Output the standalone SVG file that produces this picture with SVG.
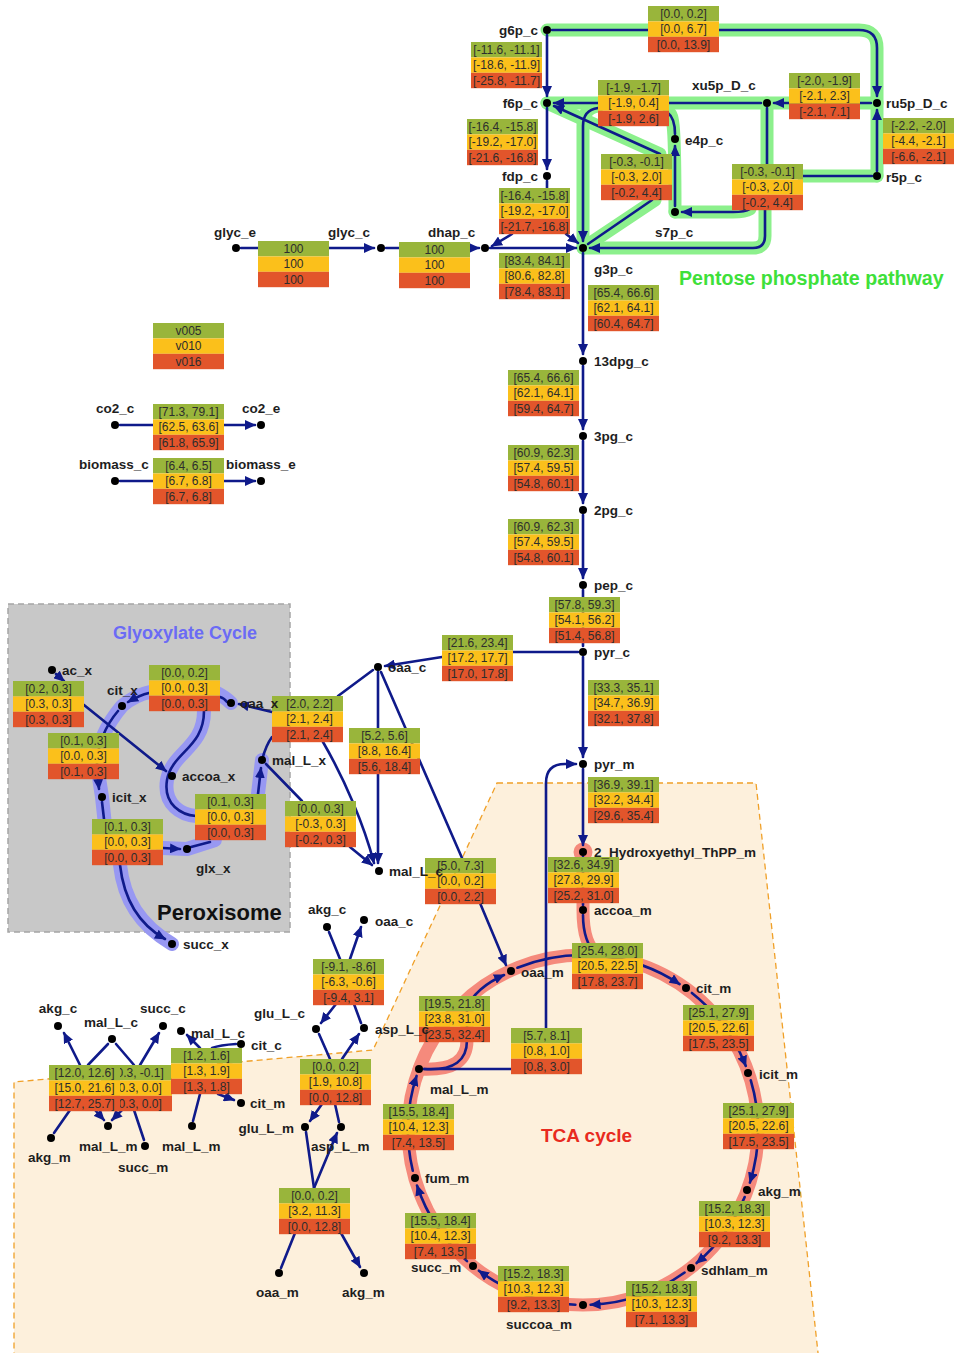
<svg xmlns="http://www.w3.org/2000/svg" width="954" height="1353" viewBox="0 0 954 1353">
<style>
.bx text{font:12px "Liberation Sans",Arial,sans-serif;fill:#2d2d2d;text-anchor:middle}
.l{font:bold 13.5px "Liberation Sans",Arial,sans-serif;fill:#1e1e1e}
.m{text-anchor:middle}.e{text-anchor:end}
.d{fill:#000}
.c path{fill:none;stroke:#0f1a8a;stroke-width:2.6;stroke-linecap:round}
.c .a{marker-end:url(#ah)}
.hg path{fill:none;stroke:#8cf08c;stroke-width:13;stroke-linecap:round;stroke-linejoin:round}
.hb path{fill:none;stroke:#9898f2;stroke-width:14;stroke-linecap:round;stroke-linejoin:round}
.hr path,.hr circle{fill:none;stroke:#f58a7c;stroke-width:13;stroke-linecap:round}
.big{font-family:"Liberation Sans",Arial,sans-serif;font-weight:bold}
</style>
<defs>
<marker id="ah" markerUnits="userSpaceOnUse" markerWidth="11" markerHeight="10" refX="10" refY="5" orient="auto"><path d="M0,0 L11,5 L0,10 z" fill="#0f1a8a"/></marker>
<g id="bx"><rect width="71" height="15.4" fill="#99b53b"/><rect y="15.4" width="71" height="15.4" fill="#fbc01b"/><rect y="30.8" width="71" height="15.4" fill="#e2552b"/></g>
</defs>
<rect width="954" height="1353" fill="#fff"/>
<g id="peroxisome"><rect x="8" y="604" width="282" height="328" fill="#c8c8c8" stroke="#a5a5a5" stroke-width="1.5" stroke-dasharray="6,4"/></g>
<g id="mitochondrion"><polygon points="497,783 756,783 819,1362 14,1362 14,1082 373,1050" fill="#fdf0dc" stroke="#f0a028" stroke-width="1.3" stroke-dasharray="6,4"/></g>

<g id="halos">
<g class="hg">
<path d="M547 30 L859 30 Q877 30 877 48 L877 176"/>
<path d="M877 103 L547 103"/>
<path d="M598 106 Q583 108 583 126 L583 248"/>
<path d="M669 112 C673 116 675 122 675 212"/>
<path d="M660 154 L547 103"/>
<path d="M583 248 L655 200"/>
<path d="M767 103 L767 164"/>
<path d="M877 176 L803 176"/>
<path d="M750 209 Q745 212 733 212 L675 212"/>
<path d="M765 209 L765 236 Q765 248 753 248 L583 248"/>
</g>
<g class="hb">
<path d="M231 703 Q225 697 215 692 L150 692 Q135 695 122 706 C106 725 97 745 97 765 L102 797 L105 825"/>
<path d="M120 865 C124 900 140 925 172 944"/>
<path d="M163 848 L187 849 L215 840"/>
<path d="M258 794 L262 760"/>
<path d="M204 711 C204 748 172 752 167 780 C163 805 182 815 196 816"/>
</g>
<g class="hr">
<circle cx="583" cy="1130" r="175"/>
<path d="M583 852 L583 910 C583 935 588 947 598 956"/>
<path d="M419 1069 C455 1071 467 1060 467 1040 L467 1005"/>
<circle cx="583" cy="852" r="3"/>
</g>
</g>

<g id="connectors" class="c">
<path class="a" d="M552 30 L859 30 Q877 30 877 48 L877 96"/>
<path class="a" d="M547 35 L547 96"/>
<path class="a" d="M547 108 L547 169"/>
<path d="M547 181 L547 190"/>
<path class="a" d="M512 234 L492 246"/>
<path class="a" d="M566 234 L578 243"/>
<path class="a" d="M490 248 L576 248"/>
<path class="a" d="M871 103 L774 103"/>
<path class="a" d="M761 103 L554 103"/>
<path class="a" d="M598 108 Q583 110 583 126 L583 241"/>
<path d="M675 134 C675 122 672 116 668 113"/>
<path class="a" d="M675 206 L675 146"/>
<path class="a" d="M660 154 L554 106"/>
<path d="M588 244 L652 200"/>
<path d="M767 108 L767 164"/>
<path d="M872 176 L803 176"/>
<path class="a" d="M750 209 Q745 212 733 212 L682 212"/>
<path class="a" d="M765 209 L765 236 Q765 248 753 248 L590 248"/>
<path class="a" d="M877 171 L877 110"/>
<path d="M241 248 L258 248"/>
<path class="a" d="M329 248 L374 248"/>
<path d="M386 248 L399 248"/>
<path class="a" d="M470 248 L479 248"/>
<path class="a" d="M583 253 L583 354"/>
<path class="a" d="M583 366 L583 429"/>
<path class="a" d="M583 441 L583 503"/>
<path class="a" d="M583 515 L583 578"/>
<path d="M583 590 L583 646"/>
<path class="a" d="M583 657 L583 757"/>
<path class="a" d="M583 769 L583 845"/>
<path d="M583 857 L583 905"/>
<path d="M120 425 L153 425"/>
<path class="a" d="M224 425 L255 425"/>
<path d="M120 481 L153 481"/>
<path class="a" d="M224 481 L255 481"/>
<path d="M578 652 L513 652"/>
<path class="a" d="M442 657 L385 666"/>
<path d="M378 672 L378 728"/>
<path class="a" d="M378 773 L378 863"/>
<path d="M381 672 L462 858"/>
<path class="a" d="M480 903 L506 965"/>
<path class="a" d="M56 674 L64 681"/>
<path class="a" d="M84 705 L166 771"/>
<path d="M227 702 Q224 698 220 697"/>
<path class="a" d="M149 693 Q140 695 128 702"/>
<path d="M204 711 C204 748 172 752 167 780 C163 805 182 815 196 816"/>
<path class="a" d="M118 711 C106 725 97 745 97 765 L99 789"/>
<path d="M102 802 L104 819"/>
<path class="a" d="M163 848 L180 849"/>
<path class="a" d="M120 865 C124 900 140 925 165 939"/>
<path d="M191 847 L210 842"/>
<path class="a" d="M258 794 L261 768"/>
<path d="M262 760 Q266 745 272 737"/>
<path class="a" d="M272 712 L239 704"/>
<path d="M338 696 L373 670"/>
<path class="a" d="M323 742 C345 780 364 825 374 863"/>
<path d="M266 764 L302 801"/>
<path class="a" d="M350 847 L372 865"/>
<path class="a" d="M517.4 967.7 A175 175 0 0 1 679.6 984.1"/>
<path d="M583 915 C583 935 588 947 597 956"/>
<path class="a" d="M691.9 993 A175 175 0 0 1 745.8 1065.9"/>
<path class="a" d="M750.8 1080.3 A175 175 0 0 1 749.9 1182.6"/>
<path class="a" d="M744.7 1197 A175 175 0 0 1 696.6 1263.1"/>
<path class="a" d="M684.6 1272.5 A175 175 0 0 1 590.6 1304.8"/>
<path class="a" d="M575.4 1304.8 A175 175 0 0 1 478.9 1270.7"/>
<path class="a" d="M467 1261.1 A175 175 0 0 1 417 1185.5"/>
<path class="a" d="M412.8 1170.8 A175 175 0 0 1 416.6 1075.9"/>
<path class="a" d="M424 1069 C455 1071 467 1060 467 1040 L467 1010 C470 995 488 982 504 975"/>
<path d="M424 1069 L511 1069"/>
<path class="a" d="M546 1028 L546 783 Q546 764 565 764 L576 764"/>
<path class="a" d="M80 1065 L64 1033"/>
<path d="M108 1044 L88 1065"/>
<path d="M116 1044 L134 1065"/>
<path class="a" d="M140 1065 L159 1033"/>
<path d="M54 1133 L70 1110"/>
<path class="a" d="M95 1110 L104 1120"/>
<path class="a" d="M122 1110 L112 1120"/>
<path d="M144 1140 L134 1110"/>
<path d="M236 1044 Q220 1045 212 1048"/>
<path class="a" d="M200 1048 L187 1035"/>
<path class="a" d="M218 1094 L234 1100"/>
<path d="M193 1121 L200 1094"/>
<path d="M329 932 L340 959"/>
<path class="a" d="M350 959 L361 927"/>
<path class="a" d="M336 1004 L321 1023"/>
<path d="M361 1023 L354 1004"/>
<path d="M319 1034 L330 1059"/>
<path class="a" d="M342 1059 L359 1034"/>
<path class="a" d="M322 1104 L310 1121"/>
<path d="M339 1122 L335 1104"/>
<path d="M306 1132 L314 1188"/>
<path class="a" d="M314 1188 L337 1133"/>
<path d="M295 1233 L281 1268"/>
<path class="a" d="M341 1233 L360 1267"/>
</g>

<g id="boxes" class="bx">
<g id="r_gnd" transform="translate(648,6)"><use href="#bx"/><text x="35.5" y="12">[0.0, 0.2]</text><text x="35.5" y="27.3">[0.0, 6.7]</text><text x="35.5" y="42.6">[0.0, 13.9]</text></g>
<g id="r_pgi" transform="translate(471,42)"><use href="#bx"/><text x="35.5" y="12">[-11.6, -11.1]</text><text x="35.5" y="27.3">[-18.6, -11.9]</text><text x="35.5" y="42.6">[-25.8, -11.7]</text></g>
<g id="r_pfk" transform="translate(467,119)"><use href="#bx"/><text x="35.5" y="12">[-16.4, -15.8]</text><text x="35.5" y="27.3">[-19.2, -17.0]</text><text x="35.5" y="42.6">[-21.6, -16.8]</text></g>
<g id="r_fba" transform="translate(499,188)"><use href="#bx"/><text x="35.5" y="12">[-16.4, -15.8]</text><text x="35.5" y="27.3">[-19.2, -17.0]</text><text x="35.5" y="42.6">[-21.7, -16.8]</text></g>
<g id="r_tkt1" transform="translate(598,80)"><use href="#bx"/><text x="35.5" y="12">[-1.9, -1.7]</text><text x="35.5" y="27.3">[-1.9, 0.4]</text><text x="35.5" y="42.6">[-1.9, 2.6]</text></g>
<g id="r_rpe" transform="translate(789,73)"><use href="#bx"/><text x="35.5" y="12">[-2.0, -1.9]</text><text x="35.5" y="27.3">[-2.1, 2.3]</text><text x="35.5" y="42.6">[-2.1, 7.1]</text></g>
<g id="r_rpi" transform="translate(883,118)"><use href="#bx"/><text x="35.5" y="12">[-2.2, -2.0]</text><text x="35.5" y="27.3">[-4.4, -2.1]</text><text x="35.5" y="42.6">[-6.6, -2.1]</text></g>
<g id="r_tal" transform="translate(601,154)"><use href="#bx"/><text x="35.5" y="12">[-0.3, -0.1]</text><text x="35.5" y="27.3">[-0.3, 2.0]</text><text x="35.5" y="42.6">[-0.2, 4.4]</text></g>
<g id="r_tkt2" transform="translate(732,164)"><use href="#bx"/><text x="35.5" y="12">[-0.3, -0.1]</text><text x="35.5" y="27.3">[-0.3, 2.0]</text><text x="35.5" y="42.6">[-0.2, 4.4]</text></g>
<g id="r_tpi" transform="translate(499,253)"><use href="#bx"/><text x="35.5" y="12">[83.4, 84.1]</text><text x="35.5" y="27.3">[80.6, 82.8]</text><text x="35.5" y="42.6">[78.4, 83.1]</text></g>
<g id="r_glyct" transform="translate(258,241)"><use href="#bx"/><text x="35.5" y="12">100</text><text x="35.5" y="27.3">100</text><text x="35.5" y="42.6">100</text></g>
<g id="r_glyck" transform="translate(399,242)"><use href="#bx"/><text x="35.5" y="12">100</text><text x="35.5" y="27.3">100</text><text x="35.5" y="42.6">100</text></g>
<g id="r_gapd" transform="translate(588,285)"><use href="#bx"/><text x="35.5" y="12">[65.4, 66.6]</text><text x="35.5" y="27.3">[62.1, 64.1]</text><text x="35.5" y="42.6">[60.4, 64.7]</text></g>
<g id="r_pgk" transform="translate(508,370)"><use href="#bx"/><text x="35.5" y="12">[65.4, 66.6]</text><text x="35.5" y="27.3">[62.1, 64.1]</text><text x="35.5" y="42.6">[59.4, 64.7]</text></g>
<g id="r_pgm" transform="translate(508,445)"><use href="#bx"/><text x="35.5" y="12">[60.9, 62.3]</text><text x="35.5" y="27.3">[57.4, 59.5]</text><text x="35.5" y="42.6">[54.8, 60.1]</text></g>
<g id="r_eno" transform="translate(508,519)"><use href="#bx"/><text x="35.5" y="12">[60.9, 62.3]</text><text x="35.5" y="27.3">[57.4, 59.5]</text><text x="35.5" y="42.6">[54.8, 60.1]</text></g>
<g id="r_pyk" transform="translate(549,597)"><use href="#bx"/><text x="35.5" y="12">[57.8, 59.3]</text><text x="35.5" y="27.3">[54.1, 56.2]</text><text x="35.5" y="42.6">[51.4, 56.8]</text></g>
<g id="legend" transform="translate(153,323)"><use href="#bx"/><text x="35.5" y="12">v005</text><text x="35.5" y="27.3">v010</text><text x="35.5" y="42.6">v016</text></g>
<g id="r_co2" transform="translate(153,404)"><use href="#bx"/><text x="35.5" y="12">[71.3, 79.1]</text><text x="35.5" y="27.3">[62.5, 63.6]</text><text x="35.5" y="42.6">[61.8, 65.9]</text></g>
<g id="r_biomass" transform="translate(153,458)"><use href="#bx"/><text x="35.5" y="12">[6.4, 6.5]</text><text x="35.5" y="27.3">[6.7, 6.8]</text><text x="35.5" y="42.6">[6.7, 6.8]</text></g>
<g id="r_pc" transform="translate(442,635)"><use href="#bx"/><text x="35.5" y="12">[21.6, 23.4]</text><text x="35.5" y="27.3">[17.2, 17.7]</text><text x="35.5" y="42.6">[17.0, 17.8]</text></g>
<g id="r_pyrt" transform="translate(588,680)"><use href="#bx"/><text x="35.5" y="12">[33.3, 35.1]</text><text x="35.5" y="27.3">[34.7, 36.9]</text><text x="35.5" y="42.6">[32.1, 37.8]</text></g>
<g id="r_pdh1" transform="translate(588,777)"><use href="#bx"/><text x="35.5" y="12">[36.9, 39.1]</text><text x="35.5" y="27.3">[32.2, 34.4]</text><text x="35.5" y="42.6">[29.6, 35.4]</text></g>
<g id="r_pdh2" transform="translate(548,857)"><use href="#bx"/><text x="35.5" y="12">[32.6, 34.9]</text><text x="35.5" y="27.3">[27.8, 29.9]</text><text x="35.5" y="42.6">[25.2, 31.0]</text></g>
<g id="r_csm" transform="translate(572,943)"><use href="#bx"/><text x="35.5" y="12">[25.4, 28.0]</text><text x="35.5" y="27.3">[20.5, 22.5]</text><text x="35.5" y="42.6">[17.8, 23.7]</text></g>
<g id="r_acom" transform="translate(683,1005)"><use href="#bx"/><text x="35.5" y="12">[25.1, 27.9]</text><text x="35.5" y="27.3">[20.5, 22.6]</text><text x="35.5" y="42.6">[17.5, 23.5]</text></g>
<g id="r_icdh" transform="translate(723,1103)"><use href="#bx"/><text x="35.5" y="12">[25.1, 27.9]</text><text x="35.5" y="27.3">[20.5, 22.6]</text><text x="35.5" y="42.6">[17.5, 23.5]</text></g>
<g id="r_akgdh" transform="translate(699,1201)"><use href="#bx"/><text x="35.5" y="12">[15.2, 18.3]</text><text x="35.5" y="27.3">[10.3, 12.3]</text><text x="35.5" y="42.6">[9.2, 13.3]</text></g>
<g id="r_sdhlam" transform="translate(626,1281)"><use href="#bx"/><text x="35.5" y="12">[15.2, 18.3]</text><text x="35.5" y="27.3">[10.3, 12.3]</text><text x="35.5" y="42.6">[7.1, 13.3]</text></g>
<g id="r_sucoas" transform="translate(498,1266)"><use href="#bx"/><text x="35.5" y="12">[15.2, 18.3]</text><text x="35.5" y="27.3">[10.3, 12.3]</text><text x="35.5" y="42.6">[9.2, 13.3]</text></g>
<g id="r_sdh" transform="translate(405,1213)"><use href="#bx"/><text x="35.5" y="12">[15.5, 18.4]</text><text x="35.5" y="27.3">[10.4, 12.3]</text><text x="35.5" y="42.6">[7.4, 13.5]</text></g>
<g id="r_fum" transform="translate(383,1104)"><use href="#bx"/><text x="35.5" y="12">[15.5, 18.4]</text><text x="35.5" y="27.3">[10.4, 12.3]</text><text x="35.5" y="42.6">[7.4, 13.5]</text></g>
<g id="r_mdhm" transform="translate(419,996)"><use href="#bx"/><text x="35.5" y="12">[19.5, 21.8]</text><text x="35.5" y="27.3">[23.8, 31.0]</text><text x="35.5" y="42.6">[23.5, 32.4]</text></g>
<g id="r_me" transform="translate(511,1028)"><use href="#bx"/><text x="35.5" y="12">[5.7, 8.1]</text><text x="35.5" y="27.3">[0.8, 1.0]</text><text x="35.5" y="42.6">[0.8, 3.0]</text></g>
<g id="r_acx" transform="translate(13,681)"><use href="#bx"/><text x="35.5" y="12">[0.2, 0.3]</text><text x="35.5" y="27.3">[0.3, 0.3]</text><text x="35.5" y="42.6">[0.3, 0.3]</text></g>
<g id="r_csx" transform="translate(149,665)"><use href="#bx"/><text x="35.5" y="12">[0.0, 0.2]</text><text x="35.5" y="27.3">[0.0, 0.3]</text><text x="35.5" y="42.6">[0.0, 0.3]</text></g>
<g id="r_acox" transform="translate(48,733)"><use href="#bx"/><text x="35.5" y="12">[0.1, 0.3]</text><text x="35.5" y="27.3">[0.0, 0.3]</text><text x="35.5" y="42.6">[0.1, 0.3]</text></g>
<g id="r_msx" transform="translate(195,794)"><use href="#bx"/><text x="35.5" y="12">[0.1, 0.3]</text><text x="35.5" y="27.3">[0.0, 0.3]</text><text x="35.5" y="42.6">[0.0, 0.3]</text></g>
<g id="r_iclx" transform="translate(92,819)"><use href="#bx"/><text x="35.5" y="12">[0.1, 0.3]</text><text x="35.5" y="27.3">[0.0, 0.3]</text><text x="35.5" y="42.6">[0.0, 0.3]</text></g>
<g id="r_mdhx" transform="translate(272,696)"><use href="#bx"/><text x="37.5" y="12">[2.0, 2.2]</text><text x="37.5" y="27.3">[2.1, 2.4]</text><text x="37.5" y="42.6">[2.1, 2.4]</text></g>
<g id="r_malx" transform="translate(285,801)"><use href="#bx"/><text x="35.5" y="12">[0.0, 0.3]</text><text x="35.5" y="27.3">[-0.3, 0.3]</text><text x="35.5" y="42.6">[-0.2, 0.3]</text></g>
<g id="r_mdhc" transform="translate(349,728)"><use href="#bx"/><text x="35.5" y="12">[5.2, 5.6]</text><text x="35.5" y="27.3">[8.8, 16.4]</text><text x="35.5" y="42.6">[5.6, 18.4]</text></g>
<g id="r_oaat" transform="translate(425,858)"><use href="#bx"/><text x="35.5" y="12">[5.0, 7.3]</text><text x="35.5" y="27.3">[0.0, 0.2]</text><text x="35.5" y="42.6">[0.0, 2.2]</text></g>
<g id="r_succmal" transform="translate(101,1065)"><use href="#bx"/><text x="35.5" y="12">[-0.3, -0.1]</text><text x="35.5" y="27.3">[-0.3, 0.0]</text><text x="35.5" y="42.6">[-0.3, 0.0]</text></g>
<g id="r_akgmal" transform="translate(49,1065)"><use href="#bx"/><text x="35.5" y="12">[12.0, 12.6]</text><text x="35.5" y="27.3">[15.0, 21.6]</text><text x="35.5" y="42.6">[12.7, 25.7]</text></g>
<g id="r_citmal" transform="translate(171,1048)"><use href="#bx"/><text x="35.5" y="12">[1.2, 1.6]</text><text x="35.5" y="27.3">[1.3, 1.9]</text><text x="35.5" y="42.6">[1.3, 1.8]</text></g>
<g id="r_aatc" transform="translate(313,959)"><use href="#bx"/><text x="35.5" y="12">[-9.1, -8.6]</text><text x="35.5" y="27.3">[-6.3, -0.6]</text><text x="35.5" y="42.6">[-9.4, 3.1]</text></g>
<g id="r_aspglu" transform="translate(300,1059)"><use href="#bx"/><text x="35.5" y="12">[0.0, 0.2]</text><text x="35.5" y="27.3">[1.9, 10.8]</text><text x="35.5" y="42.6">[0.0, 12.8]</text></g>
<g id="r_aatm" transform="translate(279,1188)"><use href="#bx"/><text x="35.5" y="12">[0.0, 0.2]</text><text x="35.5" y="27.3">[3.2, 11.3]</text><text x="35.5" y="42.6">[0.0, 12.8]</text></g>
</g>

<g id="nodes">
<g id="n_g6p_c"><circle class="d" cx="547" cy="30" r="4"/><text class="l e" x="538" y="35">g6p_c</text></g>
<g id="n_f6p_c"><circle class="d" cx="547" cy="103" r="4"/><text class="l e" x="538" y="108">f6p_c</text></g>
<g id="n_fdp_c"><circle class="d" cx="547" cy="176" r="4"/><text class="l e" x="538" y="181">fdp_c</text></g>
<g id="n_xu5p_D_c"><circle class="d" cx="767" cy="103" r="4"/><text class="l" x="692" y="90">xu5p_D_c</text></g>
<g id="n_ru5p_D_c"><circle class="d" cx="877" cy="103" r="4"/><text class="l" x="886" y="108">ru5p_D_c</text></g>
<g id="n_e4p_c"><circle class="d" cx="675" cy="139" r="4"/><text class="l" x="685" y="145">e4p_c</text></g>
<g id="n_r5p_c"><circle class="d" cx="877" cy="176" r="4"/><text class="l" x="886" y="182">r5p_c</text></g>
<g id="n_s7p_c"><circle class="d" cx="675" cy="212" r="4"/><text class="l" x="655" y="237">s7p_c</text></g>
<g id="n_g3p_c"><circle class="d" cx="583" cy="248" r="4"/><text class="l" x="594" y="274">g3p_c</text></g>
<g id="n_dhap_c"><circle class="d" cx="485" cy="248" r="4"/><text class="l" x="428" y="237">dhap_c</text></g>
<g id="n_glyc_c"><circle class="d" cx="381" cy="248" r="4"/><text class="l" x="328" y="237">glyc_c</text></g>
<g id="n_glyc_e"><circle class="d" cx="236" cy="248" r="4"/><text class="l" x="214" y="237">glyc_e</text></g>
<g id="n_13dpg_c"><circle class="d" cx="583" cy="361" r="4"/><text class="l" x="594" y="366">13dpg_c</text></g>
<g id="n_3pg_c"><circle class="d" cx="583" cy="436" r="4"/><text class="l" x="594" y="441">3pg_c</text></g>
<g id="n_2pg_c"><circle class="d" cx="583" cy="510" r="4"/><text class="l" x="594" y="515">2pg_c</text></g>
<g id="n_pep_c"><circle class="d" cx="583" cy="585" r="4"/><text class="l" x="594" y="590">pep_c</text></g>
<g id="n_pyr_c"><circle class="d" cx="583" cy="652" r="4"/><text class="l" x="594" y="657">pyr_c</text></g>
<g id="n_pyr_m"><circle class="d" cx="583" cy="764" r="4"/><text class="l" x="594" y="769">pyr_m</text></g>
<g id="n_2hyd"><circle class="d" cx="583" cy="852" r="4"/><text class="l" x="594" y="857">2_Hydroxyethyl_ThPP_m</text></g>
<g id="n_accoa_m"><circle class="d" cx="583" cy="910" r="4"/><text class="l" x="594" y="915">accoa_m</text></g>
<g id="n_oaa_m"><circle class="d" cx="511" cy="971" r="4"/><text class="l" x="521" y="977">oaa_m</text></g>
<g id="n_cit_m"><circle class="d" cx="686" cy="988" r="4"/><text class="l" x="696" y="993">cit_m</text></g>
<g id="n_icit_m"><circle class="d" cx="748" cy="1073" r="4"/><text class="l" x="759" y="1079">icit_m</text></g>
<g id="n_akg_m"><circle class="d" cx="747" cy="1190" r="4"/><text class="l" x="758" y="1196">akg_m</text></g>
<g id="n_sdhlam_m"><circle class="d" cx="691" cy="1268" r="4"/><text class="l" x="701" y="1275">sdhlam_m</text></g>
<g id="n_succoa_m"><circle class="d" cx="583" cy="1305" r="4"/><text class="l" x="506" y="1329">succoa_m</text></g>
<g id="n_succ_m"><circle class="d" cx="473" cy="1266" r="4"/><text class="l" x="411" y="1272">succ_m</text></g>
<g id="n_fum_m"><circle class="d" cx="415" cy="1178" r="4"/><text class="l" x="425" y="1183">fum_m</text></g>
<g id="n_mal_L_m"><circle class="d" cx="419" cy="1069" r="4"/><text class="l" x="430" y="1094">mal_L_m</text></g>
<g id="n_co2_c"><circle class="d" cx="115" cy="425" r="4"/><text class="l" x="96" y="413">co2_c</text></g>
<g id="n_co2_e"><circle class="d" cx="261" cy="425" r="4"/><text class="l" x="242" y="413">co2_e</text></g>
<g id="n_biomass_c"><circle class="d" cx="115" cy="481" r="4"/><text class="l" x="79" y="469">biomass_c</text></g>
<g id="n_biomass_e"><circle class="d" cx="261" cy="481" r="4"/><text class="l" x="226" y="469">biomass_e</text></g>
<g id="n_ac_x"><circle class="d" cx="52" cy="670" r="4"/><text class="l" x="62" y="675">ac_x</text></g>
<g id="n_cit_x"><circle class="d" cx="122" cy="706" r="4"/><text class="l" x="107" y="695">cit_x</text></g>
<g id="n_oaa_x"><circle class="d" cx="231" cy="703" r="4"/><text class="l" x="240" y="708">oaa_x</text></g>
<g id="n_accoa_x"><circle class="d" cx="172" cy="776" r="4"/><text class="l" x="182" y="781">accoa_x</text></g>
<g id="n_icit_x"><circle class="d" cx="102" cy="797" r="4"/><text class="l" x="112" y="802">icit_x</text></g>
<g id="n_mal_L_x"><circle class="d" cx="262" cy="760" r="4"/><text class="l" x="272" y="765">mal_L_x</text></g>
<g id="n_glx_x"><circle class="d" cx="187" cy="849" r="4"/><text class="l" x="196" y="873">glx_x</text></g>
<g id="n_succ_x"><circle class="d" cx="172" cy="944" r="4"/><text class="l" x="183" y="949">succ_x</text></g>
<g id="n_oaa_c"><circle class="d" cx="378" cy="667" r="4"/><text class="l" x="388" y="672">oaa_c</text></g>
<g id="n_mal_L_c"><circle class="d" cx="379" cy="871" r="4"/><text class="l" x="389" y="876">mal_L_c</text></g>
<g id="n_akg_c_2"><circle class="d" cx="58" cy="1026" r="4"/><text class="l m" x="58" y="1013">akg_c</text></g>
<g id="n_mal_L_c_2"><circle class="d" cx="112" cy="1039" r="4"/><text class="l m" x="111" y="1027">mal_L_c</text></g>
<g id="n_succ_c"><circle class="d" cx="163" cy="1026" r="4"/><text class="l m" x="163" y="1013">succ_c</text></g>
<g id="n_mal_L_c_3"><circle class="d" cx="181" cy="1031" r="4"/><text class="l" x="191" y="1038">mal_L_c</text></g>
<g id="n_cit_c"><circle class="d" cx="241" cy="1044" r="4"/><text class="l" x="251" y="1050">cit_c</text></g>
<g id="n_cit_m_2"><circle class="d" cx="241" cy="1103" r="4"/><text class="l" x="250" y="1108">cit_m</text></g>
<g id="n_akg_m_2"><circle class="d" cx="51" cy="1138" r="4"/><text class="l" x="28" y="1162">akg_m</text></g>
<g id="n_mal_L_m_2"><circle class="d" cx="108" cy="1126" r="4"/><text class="l" x="79" y="1151">mal_L_m</text></g>
<g id="n_succ_m_2"><circle class="d" cx="145" cy="1146" r="4"/><text class="l" x="118" y="1172">succ_m</text></g>
<g id="n_mal_L_m_3"><circle class="d" cx="192" cy="1126" r="4"/><text class="l" x="162" y="1151">mal_L_m</text></g>
<g id="n_glu_L_c"><circle class="d" cx="316" cy="1029" r="4"/><text class="l" x="254" y="1018">glu_L_c</text></g>
<g id="n_asp_L_c"><circle class="d" cx="364" cy="1028" r="4"/><text class="l" x="375" y="1034">asp_L_c</text></g>
<g id="n_akg_c_3"><circle class="d" cx="327" cy="927" r="4"/><text class="l" x="308" y="914">akg_c</text></g>
<g id="n_oaa_c_2"><circle class="d" cx="364" cy="920" r="4"/><text class="l" x="375" y="926">oaa_c</text></g>
<g id="n_glu_L_m"><circle class="d" cx="305" cy="1127" r="4"/><text class="l e" x="294" y="1133">glu_L_m</text></g>
<g id="n_asp_L_m"><circle class="d" cx="341" cy="1127" r="4"/><text class="l" x="311" y="1151">asp_L_m</text></g>
<g id="n_oaa_m_2"><circle class="d" cx="279" cy="1273" r="4"/><text class="l" x="256" y="1297">oaa_m</text></g>
<g id="n_akg_m_3"><circle class="d" cx="364" cy="1273" r="4"/><text class="l" x="342" y="1297">akg_m</text></g>
</g>

<g id="titles">
<text class="big" x="679" y="285" font-size="19.6" fill="#3ee03a">Pentose phosphate pathway</text>
<text class="big" x="113" y="639" font-size="18" fill="#6b6bf5">Glyoxylate Cycle</text>
<text class="big" x="157" y="920" font-size="22" fill="#111">Peroxisome</text>
<text class="big" x="541" y="1142" font-size="19" fill="#e82a20">TCA cycle</text>
</g>
</svg>
